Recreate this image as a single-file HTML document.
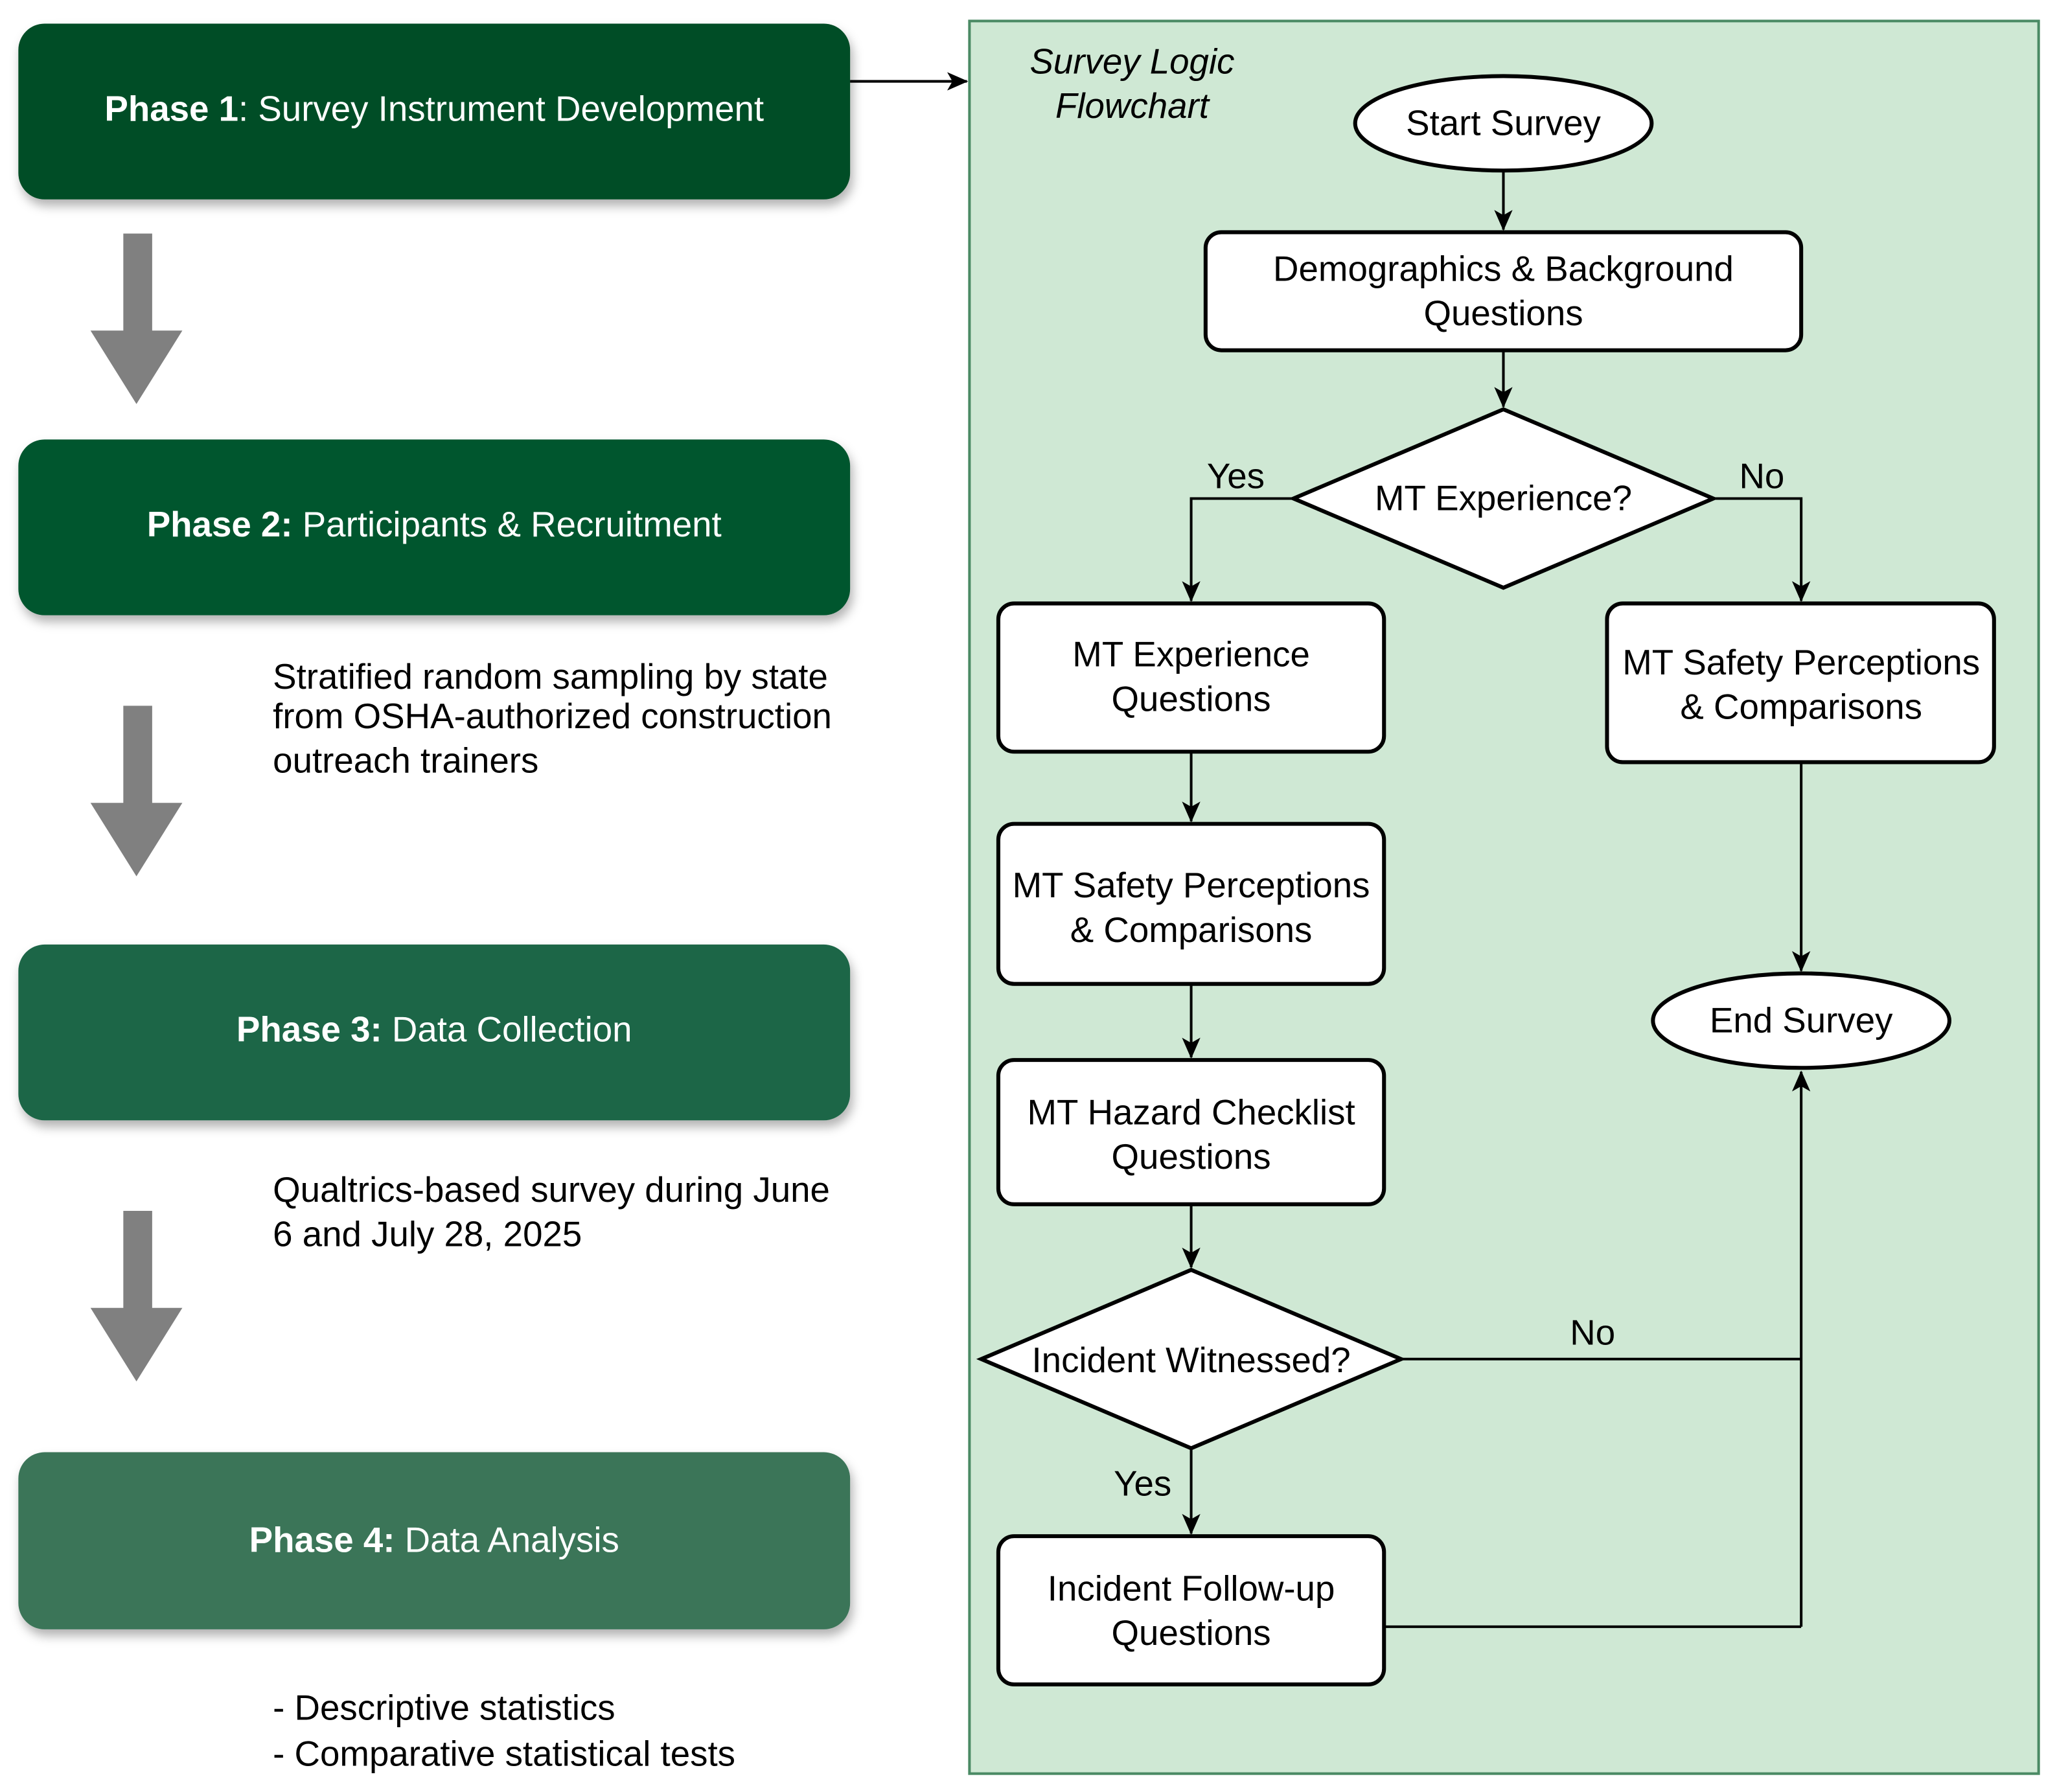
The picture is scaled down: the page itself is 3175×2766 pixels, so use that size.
<!DOCTYPE html>
<html><head><meta charset="utf-8"><style>html,body{margin:0;padding:0;background:#fff}svg{display:block}</style></head>
<body>
<svg width="3175" height="2766" viewBox="0 0 1568 1366" xmlns="http://www.w3.org/2000/svg" font-family="Liberation Sans, Arial, sans-serif">
<defs>
<filter id="sh" x="-5%" y="-10%" width="110%" height="130%"><feDropShadow dx="2" dy="5" stdDeviation="4" flood-color="#000" flood-opacity="0.3"/></filter>
<marker id="ah" markerWidth="16" markerHeight="14" refX="15" refY="7" orient="auto" markerUnits="userSpaceOnUse" viewBox="0 0 16 14"><path d="M0,0 L16,7 L0,14 L4,7 z" fill="#000"/></marker>
</defs>
<rect width="1568" height="1366" fill="#fff"/>
<g filter="url(#sh)">
<rect x="14" y="18" width="634" height="134" rx="20" fill="#004d25"/>
<rect x="14" y="335" width="634" height="134" rx="20" fill="#01562f"/>
<rect x="14" y="720" width="634" height="134" rx="20" fill="#1b6647"/>
<rect x="14" y="1107" width="634" height="135" rx="20" fill="#3a7558"/>
</g>
<g fill="#fff" font-size="27" text-anchor="middle">
<text x="331" y="92"><tspan font-weight="bold">Phase 1</tspan>: Survey Instrument Development</text>
<text x="331" y="409"><tspan font-weight="bold">Phase 2:</tspan> Participants &amp; Recruitment</text>
<text x="331" y="794"><tspan font-weight="bold">Phase 3:</tspan> Data Collection</text>
<text x="331" y="1183"><tspan font-weight="bold">Phase 4:</tspan> Data Analysis</text>
</g>
<g fill="#808080">
<path d="M94,178 H116 V252 H139 L104,308 L69,252 H94 Z"/>
<path d="M94,538 H116 V612 H139 L104,668 L69,612 H94 Z"/>
<path d="M94,923 H116 V997 H139 L104,1053 L69,997 H94 Z"/>
</g>
<g fill="#000" font-size="27">
<text x="208" y="525">Stratified random sampling by state</text>
<text x="208" y="555">from OSHA-authorized construction</text>
<text x="208" y="589">outreach trainers</text>
<text x="208" y="916">Qualtrics-based survey during June</text>
<text x="208" y="950">6 and July 28, 2025</text>
<text x="208" y="1311">- Descriptive statistics</text>
<text x="208" y="1346">- Comparative statistical tests</text>
</g>
<rect x="739" y="16" width="815" height="1336" fill="#cfe8d4" stroke="#4a8a64" stroke-width="2"/>
<line x1="648" y1="62" x2="737" y2="62" stroke="#000" stroke-width="2" marker-end="url(#ah)"/>
<g font-size="27" font-style="italic" text-anchor="middle"><text x="863" y="56">Survey Logic</text><text x="863" y="90">Flowchart</text></g>
<g stroke="#000" stroke-width="2" fill="none">
<line x1="1146" y1="130" x2="1146" y2="175" marker-end="url(#ah)"/>
<line x1="1146" y1="267" x2="1146" y2="310" marker-end="url(#ah)"/>
<polyline points="986,380 908,380 908,458" marker-end="url(#ah)"/>
<polyline points="1306,380 1373,380 1373,458" marker-end="url(#ah)"/>
<line x1="908" y1="573" x2="908" y2="626" marker-end="url(#ah)"/>
<line x1="908" y1="750" x2="908" y2="806" marker-end="url(#ah)"/>
<line x1="908" y1="918" x2="908" y2="966" marker-end="url(#ah)"/>
<line x1="908" y1="1104" x2="908" y2="1169" marker-end="url(#ah)"/>
<line x1="1373" y1="581" x2="1373" y2="740" marker-end="url(#ah)"/>
<line x1="1068" y1="1036" x2="1373" y2="1036"/>
<line x1="1055" y1="1240" x2="1373" y2="1240"/>
<line x1="1373" y1="1240" x2="1373" y2="817" marker-end="url(#ah)"/>
</g>
<g fill="#fff" stroke="#000" stroke-width="3">
<ellipse cx="1146" cy="94" rx="113" ry="36"/>
<rect x="919" y="177" width="454" height="90" rx="12"/>
<polygon points="1146,312 1306,380 1146,448 986,380"/>
<rect x="761" y="460" width="294" height="113" rx="12"/>
<rect x="761" y="628" width="294" height="122" rx="12"/>
<rect x="761" y="808" width="294" height="110" rx="12"/>
<rect x="1225" y="460" width="295" height="121" rx="12"/>
<ellipse cx="1373" cy="778" rx="113" ry="36"/>
<polygon points="908,968 1068,1036 908,1104 748,1036"/>
<rect x="761" y="1171" width="294" height="113" rx="12"/>
</g>
<g font-size="27" text-anchor="middle" fill="#000">
<text x="1146" y="103">Start Survey</text>
<text x="1146" y="214">Demographics &amp; Background</text>
<text x="1146" y="248">Questions</text>
<text x="1146" y="389">MT Experience?</text>
<text x="942" y="372">Yes</text>
<text x="1343" y="372">No</text>
<text x="908" y="508">MT Experience</text>
<text x="908" y="542">Questions</text>
<text x="908" y="684">MT Safety Perceptions</text>
<text x="908" y="718">&amp; Comparisons</text>
<text x="908" y="857">MT Hazard Checklist</text>
<text x="908" y="891">Questions</text>
<text x="1373" y="514">MT Safety Perceptions</text>
<text x="1373" y="548">&amp; Comparisons</text>
<text x="1373" y="787">End Survey</text>
<text x="908" y="1046">Incident Witnessed?</text>
<text x="1214" y="1025">No</text>
<text x="871" y="1140">Yes</text>
<text x="908" y="1220">Incident Follow-up</text>
<text x="908" y="1254">Questions</text>
</g>
</svg>
</body></html>
